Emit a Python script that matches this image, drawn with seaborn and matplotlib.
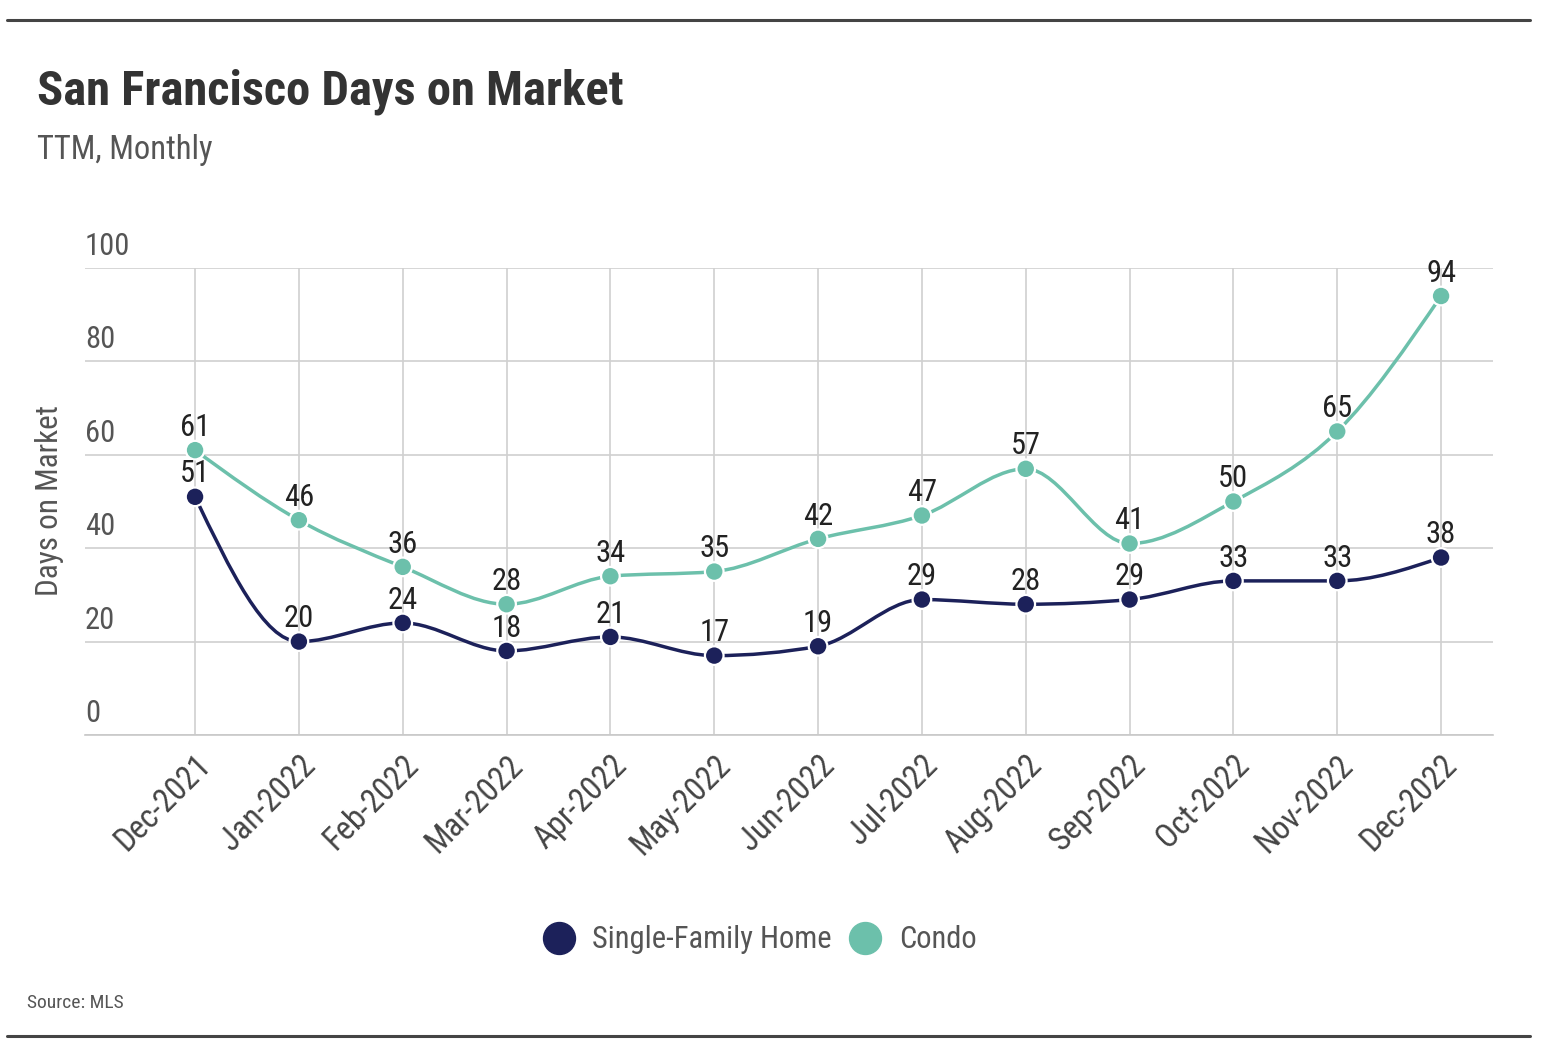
import numpy as np
import pandas as pd
import matplotlib
matplotlib.use("Agg")
import matplotlib.pyplot as plt
from matplotlib.path import Path
from matplotlib.patches import PathPatch
from matplotlib.lines import Line2D
import matplotlib.transforms as mtransforms
import seaborn as sns

months = ["Dec-2021", "Jan-2022", "Feb-2022", "Mar-2022", "Apr-2022", "May-2022", "Jun-2022",
          "Jul-2022", "Aug-2022", "Sep-2022", "Oct-2022", "Nov-2022", "Dec-2022"]
single_family = [51, 20, 24, 18, 21, 17, 19, 29, 28, 29, 33, 33, 38]
condo = [61, 46, 36, 28, 34, 35, 42, 47, 57, 41, 50, 65, 94]
y_ticks = [0, 20, 40, 60, 80, 100]
series_names = ["Single-Family Home", "Condo"]

NAVY = "#1c215a"
TEAL = "#6cc0ab"
colors = {"Single-Family Home": NAVY, "Condo": TEAL}

sns.set_theme(style="white")
plt.rcParams["font.family"] = ["Roboto Condensed", "DejaVu Sans Condensed",
                               "Liberation Sans Narrow", "Lato", "DejaVu Sans"]
plt.rcParams["font.stretch"] = "condensed"

df = pd.DataFrame({
    "idx": list(range(len(months))) * 2,
    "month": months * 2,
    "value": single_family + condo,
    "series": [series_names[0]] * len(months) + [series_names[1]] * len(months),
})

fig = plt.figure(figsize=(15.5, 10.52), dpi=100)
ax = fig.add_axes([85 / 1550, 1 - 735 / 1052, (1493 - 85) / 1550, (735 - 268) / 1052])


def monotone_path(xs, ys):
    xs = np.asarray(xs, float)
    ys = np.asarray(ys, float)
    n = len(xs)
    h = np.diff(xs)
    s = np.diff(ys) / h
    t = np.zeros(n)
    for i in range(1, n - 1):
        s0, s1 = s[i - 1], s[i]
        h0, h1 = h[i - 1], h[i]
        p = (s0 * h1 + s1 * h0) / (h0 + h1)
        t[i] = (np.sign(s0) + np.sign(s1)) * min(abs(s0), abs(s1), 0.5 * abs(p))
    t[0] = (3 * s[0] - t[1]) / 2
    t[-1] = (3 * s[-1] - t[-2]) / 2
    verts = [(xs[0], ys[0])]
    codes = [Path.MOVETO]
    for i in range(n - 1):
        dx = h[i] / 3
        verts += [(xs[i] + dx, ys[i] + dx * t[i]),
                  (xs[i + 1] - dx, ys[i + 1] - dx * t[i + 1]),
                  (xs[i + 1], ys[i + 1])]
        codes += [Path.CURVE4] * 3
    return Path(verts, codes)


for name in series_names:
    sub = df[df["series"] == name]
    path = monotone_path(sub["idx"], sub["value"])
    ax.add_patch(PathPatch(path, fill=False, edgecolor=colors[name], lw=2.5,
                           zorder=3, capstyle="round", joinstyle="round"))

sns.scatterplot(data=df, x="idx", y="value", hue="series", palette=colors, s=180,
                edgecolor="white", linewidth=1.6, zorder=4, legend=False, ax=ax)

for name in series_names:
    sub = df[df["series"] == name]
    for xi, v in zip(sub["idx"], sub["value"]):
        ax.annotate(f"{v}", (xi, v), xytext=(0, 6), textcoords="offset points",
                    ha="center", va="bottom", fontsize=22, color="#222222", zorder=5)

ax.set_xlim(-1.06, 12.5)
ax.set_ylim(0, 100)
ax.set_xticks(range(len(months)))
ax.set_xticklabels(months, rotation=45, ha="right", rotation_mode="anchor",
                   fontsize=23.5, color="#444444")
ax.tick_params(axis="x", length=0, pad=10)
ax.set_yticks(y_ticks)
ax.set_yticklabels([])
ax.tick_params(axis="y", length=0)
ax.grid(True, color="#d0d0d0", lw=1.2)
ax.set_axisbelow(True)
for sp in ["top", "right", "left"]:
    ax.spines[sp].set_visible(False)
ax.spines["bottom"].set_color("#c8c8c8")
ax.spines["bottom"].set_linewidth(1.2)
ax.set_xlabel("")
ax.set_ylabel("")

trans = mtransforms.blended_transform_factory(ax.transAxes, ax.transData)
for yt in y_ticks:
    ax.annotate(str(yt), (0.0, yt), xycoords=trans, xytext=(0, 5), textcoords="offset points",
                ha="left", va="bottom", fontsize=22, color="#555555")

fig.text(50 / 1550, 1 - 500 / 1052, "Days on Market", rotation=90, ha="center",
         va="center", fontsize=22.5, color="#555555")

fig.text(37 / 1550, 1 - 92 / 1052, "San Francisco Days on Market", ha="left", va="center",
         fontsize=35, fontweight="bold", color="#333333")
fig.text(37 / 1550, 1 - 150 / 1052, "TTM, Monthly", ha="left", va="center",
         fontsize=23.5, color="#555555")
fig.text(27 / 1550, 1 - 1003 / 1052, "Source: MLS", ha="left", va="center",
         fontsize=14, color="#555555")

handles = [Line2D([], [], marker="o", linestyle="", markersize=23, color=colors[n],
                  markeredgecolor=colors[n]) for n in series_names]
fig.legend(handles, series_names, loc="center", bbox_to_anchor=(760 / 1550, 1 - 940 / 1052),
           ncol=2, frameon=False, fontsize=22, labelcolor="#555555", handletextpad=0.6,
           columnspacing=0.6, handlelength=1.0)

for yy in [20, 1036]:
    fig.add_artist(Line2D([7 / 1550, 1530 / 1550], [1 - yy / 1052, 1 - yy / 1052],
                          color="#444444", lw=2.2))

fig.savefig("out.png", dpi=100)
